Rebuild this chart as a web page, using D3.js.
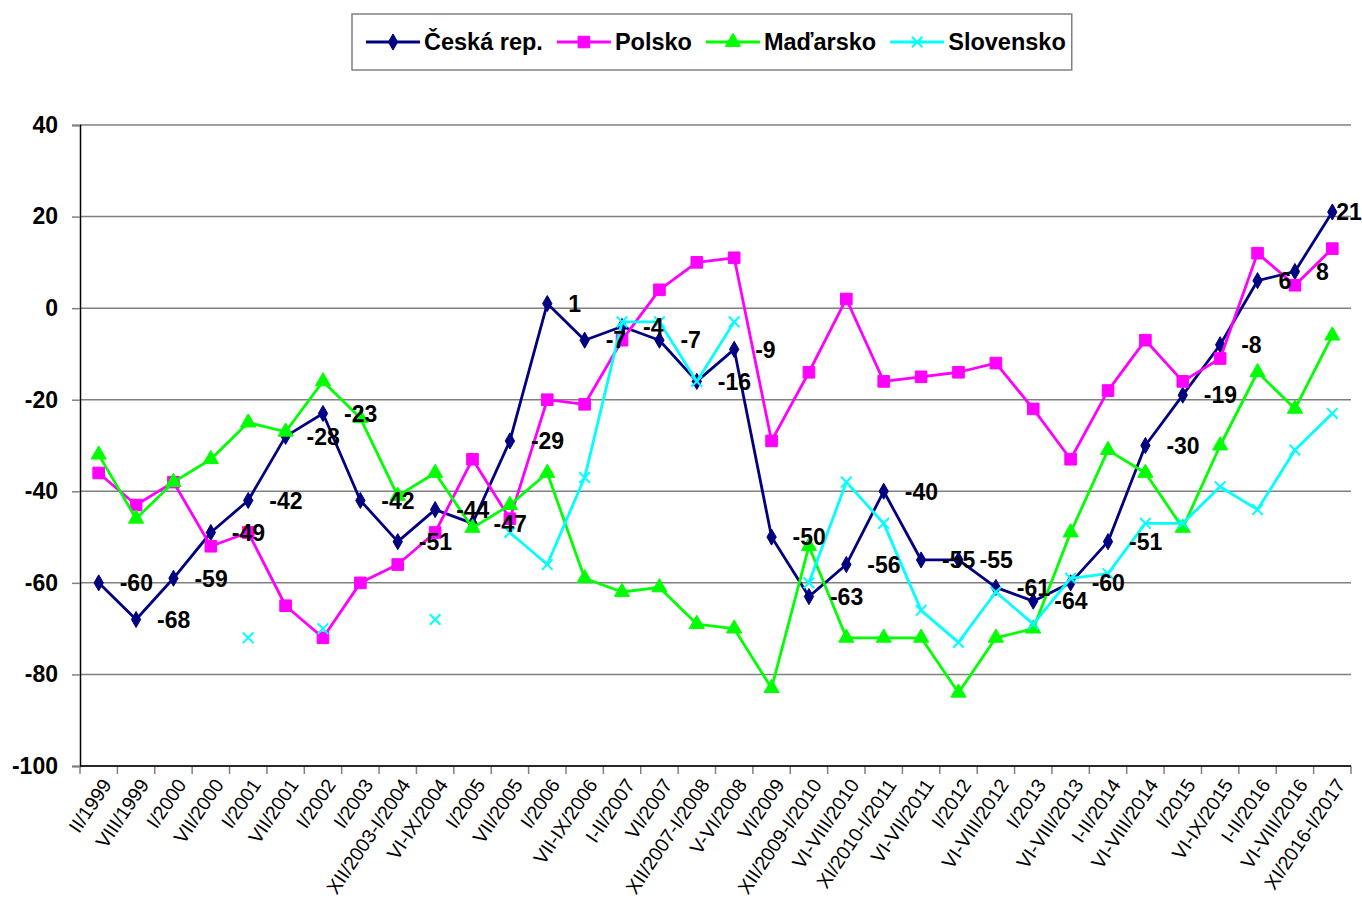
<!DOCTYPE html>
<html>
<head>
<meta charset="utf-8">
<script src="https://cdn.jsdelivr.net/npm/d3@7"></script>
<style>
  body { margin: 0; background: #fff; }
  text { font-family: "Liberation Sans", Arial, sans-serif; }
</style>
</head>
<body>
<svg id="chart" width="1362" height="904"></svg>
<script>
// categories (survey periods)
const periods = ["II/1999", "VIII/1999", "I/2000", "VII/2000", "I/2001", "VII/2001", "I/2002", "I/2003",
    "XII/2003-I/2004", "VI-IX/2004", "I/2005", "VII/2005", "I/2006", "VII-IX/2006", "I-II/2007", "VI/2007",
    "XII/2007-I/2008", "V-VI/2008", "VI/2009", "XII/2009-I/2010", "VI-VIII/2010", "XI/2010-I/2011",
    "VI-VII/2011", "I/2012", "VI-VIII/2012", "I/2013", "VI-VIII/2013", "I-II/2014", "VI-VIII/2014",
    "I/2015", "VI-IX/2015", "I-II/2016", "VI-VIII/2016", "XI/2016-I/2017"];

const cesko = [-60, -68, -59, -49, -42, -28, -23, -42, -51, -44, -47, -29, 1, -7, -4, -7, -16, -9,
    -50, -63, -56, -40, -55, -55, -61, -64, -60, -51, -30, -19, -8, 6, 8, 21];
const polsko = [-36, -43, -38, -52, -49, -65, -72, -60, -56, -49, -33, -46, -20, -21, -7, 4, 10, 11,
    -29, -14, 2, -16, -15, -14, -12, -22, -33, -18, -7, -16, -11, 12, 5, 13];
const madarsko = [-32, -46, -38, -33, -25, -27, -16, -24, -41, -36, -48, -43, -36, -59, -62, -61, -69, -70,
    -83, -52, -72, -72, -72, -84, -72, -70, -49, -31, -36, -48, -30, -14, -22, -6];
const slovensko = [null, null, null, null, -72, null, -70, null, null, -68, null, -49, -56, -37, -3, -3, -16, -3,
    null, -60, -38, -47, -66, -73, -62, -69, -59, -58, -47, -47, -39, -44, -31, -23];

const yTicks = [40, 20, 0, -20, -40, -60, -80, -100];

const series = [
    { name: "Česká rep.", values: cesko, color: "#000080", symbol: d3.symbolDiamond, size: 75, labels: true },
    { name: "Polsko", values: polsko, color: "#ff00ff", symbol: d3.symbolSquare, size: 135 },
    { name: "Maďarsko", values: madarsko, color: "#00ff00", symbol: d3.symbolTriangle, size: 100 },
    { name: "Slovensko", values: slovensko, color: "#00ffff", symbol: d3.symbolX, size: 75 }
];

const svg = d3.select("#chart");
const margin = { left: 80, right: 1351, top: 125, bottom: 766 };

const x = d3.scaleBand()
    .domain(periods)
    .range([margin.left, margin.right]);

const y = d3.scaleLinear()
    .domain([-100, 40])
    .range([margin.bottom, margin.top]);

const cx = d => x(d) + x.bandwidth() / 2;

// gridlines
svg.append("g")
    .selectAll("line")
    .data(yTicks)
    .join("line")
    .attr("x1", margin.left)
    .attr("x2", margin.right)
    .attr("y1", d => y(d))
    .attr("y2", d => y(d))
    .attr("stroke", "#808080")
    .attr("stroke-width", 1.5);

// Y axis (plain hyphen for negatives, like the original)
const yAxis = svg.append("g")
    .attr("transform", `translate(${margin.left},0)`)
    .call(d3.axisLeft(y).tickValues(yTicks).tickFormat(d => String(d)).tickSize(8).tickPadding(14));
yAxis.select(".domain").attr("stroke", "#000").attr("stroke-width", 1.5);
yAxis.selectAll(".tick line").attr("stroke", "#808080").attr("stroke-width", 1.5);
yAxis.selectAll(".tick text")
    .style("font-family", '"Liberation Sans", Arial, sans-serif')
    .style("font-size", "23px")
    .style("font-weight", "bold")
    .attr("fill", "#000");

// X axis: ticks on category boundaries
const xg = svg.append("g");
xg.selectAll("line.tick")
    .data(d3.range(periods.length + 1))
    .join("line")
    .attr("class", "tick")
    .attr("x1", i => margin.left + i * x.step())
    .attr("x2", i => margin.left + i * x.step())
    .attr("y1", margin.bottom)
    .attr("y2", margin.bottom + 8)
    .attr("stroke", "#808080")
    .attr("stroke-width", 1.5);
xg.append("line")
    .attr("x1", margin.left)
    .attr("x2", margin.right)
    .attr("y1", margin.bottom)
    .attr("y2", margin.bottom)
    .attr("stroke", "#000")
    .attr("stroke-width", 1.5);
xg.selectAll("text")
    .data(periods)
    .join("text")
    .attr("transform", d => `translate(${cx(d) + 8},${margin.bottom + 15}) rotate(-56)`)
    .attr("text-anchor", "end")
    .attr("dy", "0.35em")
    .style("font-size", "19.5px")
    .text(d => d);

// lines + markers
const line = d3.line()
    .defined(d => d.v != null)
    .x(d => cx(d.p))
    .y(d => y(d.v));

series.forEach(s => {
    const pts = periods.map((p, i) => ({ p: p, v: s.values[i] }));
    const g = svg.append("g");
    g.append("path")
        .datum(pts)
        .attr("fill", "none")
        .attr("stroke", s.color)
        .attr("stroke-width", 2.8)
        .attr("stroke-linejoin", "round")
        .attr("d", line);
    const sym = d3.symbol().type(s.symbol).size(s.size);
    g.selectAll("path.m")
        .data(pts.filter(d => d.v != null))
        .join("path")
        .attr("class", "m")
        .attr("transform", d => `translate(${cx(d.p)},${y(d.v)})`)
        .attr("d", sym)
        .attr("fill", s.color)
        .attr("stroke", s.color)
        .attr("stroke-width", s.symbol === d3.symbolX ? 2 : 1);
});

// data labels for Česká rep.
const lab = series.filter(s => s.labels)[0];
svg.append("g")
    .selectAll("text")
    .data(periods.map((p, i) => ({ p: p, v: lab.values[i], i: i })))
    .join("text")
    .attr("x", d => cx(d.p) + (d.i === periods.length - 1 ? 4 : 21))
    .attr("y", d => y(d.v))
    .attr("dy", "0.36em")
    .style("font-size", "23px")
    .style("font-weight", "bold")
    .text(d => d.v);

// legend
const legend = svg.append("g");
const box = legend.append("rect")
    .attr("x", 352).attr("y", 14)
    .attr("height", 56)
    .attr("fill", "#fff")
    .attr("stroke", "#808080")
    .attr("stroke-width", 1.5);
let lx = 366;
series.forEach(s => {
    const item = legend.append("g");
    item.append("line")
        .attr("x1", lx).attr("x2", lx + 54)
        .attr("y1", 42).attr("y2", 42)
        .attr("stroke", s.color)
        .attr("stroke-width", 2.8);
    item.append("path")
        .attr("transform", `translate(${lx + 27},42)`)
        .attr("d", d3.symbol().type(s.symbol).size(s.size))
        .attr("fill", s.color)
        .attr("stroke", s.color)
        .attr("stroke-width", s.symbol === d3.symbolX ? 2 : 1);
    const t = item.append("text")
        .attr("x", lx + 58)
        .attr("y", 42)
        .attr("dy", "0.36em")
        .style("font-size", "23.5px")
        .style("font-weight", "bold")
        .text(s.name);
    lx = lx + 58 + t.node().getComputedTextLength() + 14;
});
box.attr("width", lx - 14 + 6 - 352);
</script>
</body>
</html>
